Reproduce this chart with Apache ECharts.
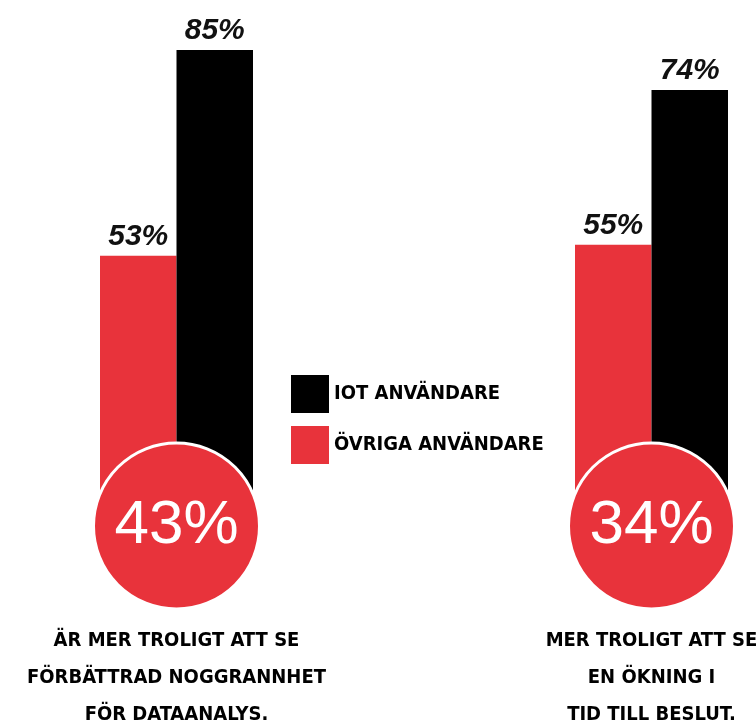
<!DOCTYPE html>
<html>
<head>
<meta charset="utf-8">
<script src="https://cdn.jsdelivr.net/npm/echarts@6/dist/echarts.min.js"></script>
<style>
  html, body { margin: 0; padding: 0; background: #fff; }
  #main { width: 756px; height: 725px; }
</style>
</head>
<body>
<div id="main"></div>
<script>
var categories = [
  'ÄR MER TROLIGT ATT SE\nFÖRBÄTTRAD NOGGRANNHET\nFÖR DATAANALYS.',
  'MER TROLIGT ATT SE\nEN ÖKNING I\nTID TILL BESLUT.'
];
var seriesNames = ['ÖVRIGA ANVÄNDARE', 'IOT ANVÄNDARE'];
var ovrigaValues = [53, 55];
var iotValues = [85, 74];
var circleValues = [43, 34];

var RED = '#e8333b';
var condensed = '"Liberation Sans Narrow", "DejaVu Sans Condensed", sans-serif';

var myChart = echarts.init(document.getElementById('main'));

// each group has its own scale, like the infographic
var axisRange = [[11, 85], [20.5, 74]];
var grids = [
  { left: 100, width: 153, top: 50, height: 476, outerBoundsMode: 'none', containLabel: false },
  { left: 575, width: 153, top: 90, height: 436, outerBoundsMode: 'none', containLabel: false }
];

var xAxes = [], yAxes = [], series = [];
categories.forEach(function (cat, i) {
  xAxes.push({
    type: 'category', gridIndex: i, data: [cat],
    axisLine: { show: false }, axisTick: { show: false },
    axisLabel: {
      margin: 96, color: '#000', fontFamily: condensed, fontWeight: 'bold',
      fontSize: 20, lineHeight: 37
    }
  });
  yAxes.push({
    type: 'value', gridIndex: i, min: axisRange[i][0], max: axisRange[i][1],
    show: false, splitLine: { show: false }
  });
  var barLabel = {
    show: true, position: 'top', distance: 4, formatter: '{c}%',
    color: '#111', fontSize: 30, fontStyle: 'italic', fontWeight: 'bold',
    fontFamily: 'Liberation Sans, Arial, sans-serif'
  };
  series.push({
    name: seriesNames[0], type: 'bar', xAxisIndex: i, yAxisIndex: i,
    data: [ovrigaValues[i]], barWidth: '50%', barGap: 0, barCategoryGap: 0,
    itemStyle: { color: RED }, label: barLabel
  });
  series.push({
    name: seriesNames[1], type: 'bar', xAxisIndex: i, yAxisIndex: i,
    data: [iotValues[i]], barWidth: '50%', barGap: 0, barCategoryGap: 0,
    itemStyle: { color: '#000' }, label: barLabel
  });
  series.push({
    type: 'scatter', xAxisIndex: i, yAxisIndex: i, clip: false, z: 5,
    symbol: 'circle', symbolSize: 166, silent: true,
    data: [[0, axisRange[i][0], circleValues[i]]],
    itemStyle: { color: RED, borderColor: '#fff', borderWidth: 3, opacity: 1 },
    label: {
      show: true, position: 'inside', color: '#fff', fontSize: 62,
      fontFamily: 'Liberation Sans, Arial, sans-serif',
      formatter: function (p) { return p.value[2] + '%'; }
    }
  });
});

var option = {
  animation: false,
  backgroundColor: '#fff',
  grid: grids,
  xAxis: xAxes,
  yAxis: yAxes,
  legend: {
    data: [seriesNames[1], seriesNames[0]],
    orient: 'vertical', left: 286, top: 370,
    icon: 'rect', itemWidth: 38, itemHeight: 38, itemGap: 13,
    textStyle: { color: '#000', fontFamily: condensed, fontWeight: 'bold', fontSize: 20 }
  },
  series: series
};

myChart.setOption(option);
</script>
</body>
</html>
